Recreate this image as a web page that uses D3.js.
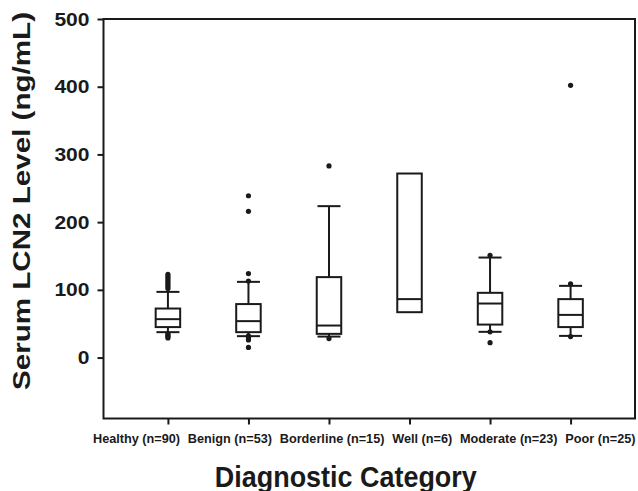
<!DOCTYPE html>
<html>
<head>
<meta charset="utf-8">
<script src="https://cdn.jsdelivr.net/npm/d3@7"></script>
<style>
  body { margin: 0; background: #fff; }
  text { font-family: "Liberation Sans", Arial, Helvetica, sans-serif; font-weight: bold; fill: #1a1a1a; }
</style>
</head>
<body>
<div id="chart"></div>
<script>
// categories and box statistics (ng/mL)
var categories = ["Healthy (n=90)", "Benign (n=53)", "Borderline (n=15)", "Well (n=6)", "Moderate (n=23)", "Poor (n=25)"];
var q1 = [45, 37.5, 35, 67, 48.7, 45];
var median = [56.7, 53.8, 47.3, 86.3, 79.8, 63];
var q3 = [72.4, 79, 118.8, 271.8, 95.6, 86.3];
var whiskerLow = [37.5, 31.6, 31, null, 38, 32];
var whiskerHigh = [97, 111.8, 223.6, null, 147.7, 105.9];
var outliers = [
  [123, 120, 117, 114, 111, 108, 105, 102, 35, 33, 31, 29],
  [239, 216, 124, 113, 32, 29, 26, 15],
  [283, 28],
  [],
  [151, 38, 22],
  [402, 109, 31]
];
var yTicks = [0, 100, 200, 300, 400, 500];

var W = 638, H = 491;
var margin = { top: 19, right: 3, bottom: 72.5, left: 103.5 };
var iw = W - margin.left - margin.right;
var ih = H - margin.top - margin.bottom;
var ink = "#1a1a1a";

var svg = d3.select("#chart").append("svg")
  .attr("width", W)
  .attr("height", H);

var g = svg.append("g")
  .attr("transform", "translate(" + margin.left + "," + margin.top + ")");

var x = d3.scalePoint()
  .domain(categories)
  .range([0, iw])
  .padding(0.8);

var y = d3.scaleLinear()
  .domain([-90, 500])
  .range([ih, 0]);

// frame
g.append("rect")
  .attr("width", iw)
  .attr("height", ih)
  .attr("fill", "none")
  .attr("stroke", ink)
  .attr("stroke-width", 2);

// y axis
var yAxis = g.append("g")
  .call(d3.axisLeft(y).tickValues(yTicks).tickSize(6).tickPadding(8));
yAxis.select(".domain").remove();
yAxis.selectAll("line").attr("stroke", ink).attr("stroke-width", 2);
yAxis.selectAll("text")
  .attr("fill", ink)
  .style("font-size", "19px")
  .attr("textLength", function(d) { return 11.7 * String(d).length; })
  .attr("lengthAdjust", "spacingAndGlyphs");

// x axis ticks only; labels are laid out below
var xAxis = g.append("g")
  .attr("transform", "translate(0," + ih + ")")
  .call(d3.axisBottom(x).tickSize(6).tickFormat(""));
xAxis.select(".domain").remove();
xAxis.selectAll("line").attr("stroke", ink).attr("stroke-width", 2);

// category labels flowed across the bottom like the original
var labelLeft = 93, labelRight = 635.5;
var labels = svg.append("g").selectAll("text")
  .data(categories)
  .enter()
  .append("text")
  .attr("y", 443)
  .style("font-size", "12.7px")
  .attr("text-anchor", "start")
  .text(function(d) { return d; });
var widths = [];
labels.each(function() { widths.push(this.getComputedTextLength()); });
var gap = (labelRight - labelLeft - d3.sum(widths)) / (categories.length - 1);
var cursor = labelLeft;
labels.attr("x", function(d, i) {
  var pos = cursor;
  cursor += widths[i] + gap;
  return pos;
});

var boxW = 24.5, capW = 23;

var box = g.selectAll(".box")
  .data(categories)
  .enter()
  .append("g")
  .attr("class", "box")
  .attr("transform", function(d) { return "translate(" + x(d) + ",0)"; });

// whiskers
box.each(function(d, i) {
  var sel = d3.select(this);
  if (whiskerLow[i] == null) return;
  [[q1[i], whiskerLow[i]], [q3[i], whiskerHigh[i]]].forEach(function(p) {
    sel.append("line")
      .attr("x1", 0).attr("x2", 0)
      .attr("y1", y(p[0])).attr("y2", y(p[1]))
      .attr("stroke", ink).attr("stroke-width", 2);
    sel.append("line")
      .attr("x1", -capW / 2).attr("x2", capW / 2)
      .attr("y1", y(p[1])).attr("y2", y(p[1]))
      .attr("stroke", ink).attr("stroke-width", 2);
  });
});

box.append("rect")
  .attr("x", -boxW / 2)
  .attr("width", boxW)
  .attr("y", function(d, i) { return y(q3[i]); })
  .attr("height", function(d, i) { return y(q1[i]) - y(q3[i]); })
  .attr("fill", "#fff")
  .attr("stroke", ink)
  .attr("stroke-width", 2);

box.append("line")
  .attr("x1", -boxW / 2).attr("x2", boxW / 2)
  .attr("y1", function(d, i) { return y(median[i]); })
  .attr("y2", function(d, i) { return y(median[i]); })
  .attr("stroke", ink)
  .attr("stroke-width", 2);

box.each(function(d, i) {
  d3.select(this).selectAll("circle")
    .data(outliers[i])
    .enter()
    .append("circle")
    .attr("cx", 0)
    .attr("cy", function(v) { return y(v); })
    .attr("r", 2.6)
    .attr("fill", ink);
});

// axis titles
svg.append("text")
  .attr("transform", "translate(29.5," + (margin.top + 182) + ") rotate(-90)")
  .attr("text-anchor", "middle")
  .style("font-size", "24px")
  .attr("textLength", 378)
  .attr("lengthAdjust", "spacingAndGlyphs")
  .text("Serum LCN2 Level (ng/mL)");

svg.append("text")
  .attr("x", 345.8)
  .attr("y", 486.5)
  .attr("text-anchor", "middle")
  .style("font-size", "29px")
  .attr("textLength", 262)
  .attr("lengthAdjust", "spacingAndGlyphs")
  .text("Diagnostic Category");
</script>
</body>
</html>
